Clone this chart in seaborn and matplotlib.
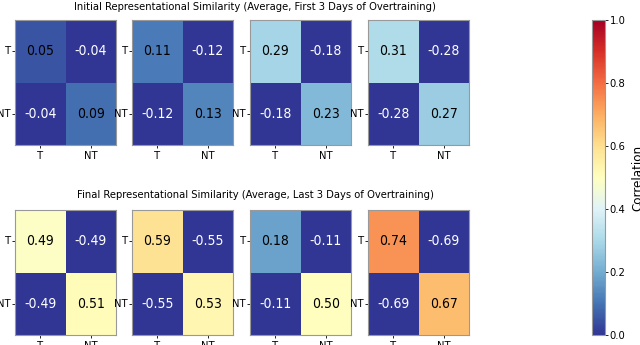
import numpy as np
import matplotlib
matplotlib.use("Agg")
import matplotlib.pyplot as plt
import seaborn as sns

# %% values
labels = ["T", "NT"]
init_tt = [0.05, 0.11, 0.29, 0.31]
init_tnt = [-0.04, -0.12, -0.18, -0.28]
init_ntnt = [0.09, 0.13, 0.23, 0.27]
final_tt = [0.49, 0.59, 0.18, 0.74]
final_tnt = [-0.49, -0.55, -0.11, -0.69]
final_ntnt = [0.51, 0.53, 0.50, 0.67]

row_titles = [
    "Initial Representational Similarity (Average, First 3 Days of Overtraining)",
    "Final Representational Similarity (Average, Last 3 Days of Overtraining)",
]

plt.rcParams['font.family'] = ['DejaVu Sans']
plt.rcParams['font.stretch'] = 'condensed'

# %% figure layout
fig = plt.figure(figsize=(6.4, 3.45), dpi=100)
W, H = 640, 345
lefts = [15, 132, 250, 368]
tops = [20, 210]
pw, ph = 101, 125

cmap = "RdYlBu_r"
rows = [(init_tt, init_tnt, init_ntnt), (final_tt, final_tnt, final_ntnt)]

for r, (tt, tnt, ntnt) in enumerate(rows):
    for c in range(4):
        mat = np.array([[tt[c], tnt[c]], [tnt[c], ntnt[c]]])
        ax = fig.add_axes([lefts[c] / W, 1 - (tops[r] + ph) / H, pw / W, ph / H])
        sns.heatmap(mat, ax=ax, cmap=cmap, vmin=0, vmax=1, cbar=False,
                    xticklabels=labels, yticklabels=labels, square=False)
        for i in range(2):
            for j in range(2):
                v = mat[i, j]
                ax.text(j + 0.5, i + 0.5, f"{v:.2f}", ha="center", va="center",
                        fontsize=10, color="white" if v < 0 else "black")
        ax.tick_params(axis="y", labelsize=8, length=2.5, width=0.6, pad=0.5)
        ax.tick_params(axis="x", labelsize=8, length=2.5, width=0.6, pad=2)
        ax.set_yticklabels(labels, rotation=0)
        for s in ax.spines.values():
            s.set_visible(True)
            s.set_color("#999999")
            s.set_linewidth(0.8)

fig.text(255 / W, 1 - 7 / H, row_titles[0], ha="center", va="center", fontsize=8)
fig.text(255 / W, 1 - 195 / H, row_titles[1], ha="center", va="center", fontsize=8)

# %% colorbar
cax = fig.add_axes([592 / W, 1 - 335 / H, 13 / W, 315 / H])
sm = plt.cm.ScalarMappable(cmap=cmap, norm=plt.Normalize(0, 1))
cb = fig.colorbar(sm, cax=cax)
cb.set_ticks([0, 0.2, 0.4, 0.6, 0.8, 1.0])
cb.ax.tick_params(labelsize=8, length=2.5, width=0.6, pad=1)
cb.set_label("Correlation", fontsize=9.5, labelpad=4)
cb.outline.set_edgecolor("#999999")

fig.savefig("out.png", dpi=100)
